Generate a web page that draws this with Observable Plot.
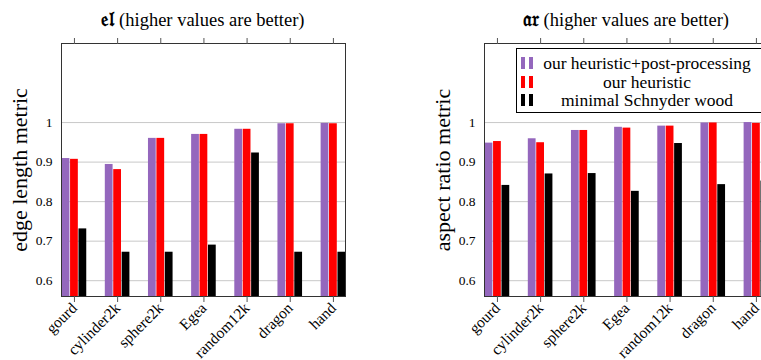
<!DOCTYPE html>
<html>
<head>
<meta charset="utf-8">
<script src="https://cdn.jsdelivr.net/npm/d3@7"></script>
<script src="https://cdn.jsdelivr.net/npm/@observablehq/plot@0.6"></script>
<style>
  html, body { margin: 0; padding: 0; background: #fff; overflow: hidden; }
  #wrap { position: relative; width: 761px; height: 360px; overflow: hidden; font-family: "Liberation Serif", serif; }
  .title { position: absolute; top: 9px; width: 284px; text-align: center; font-size: 18.5px; line-height: 20px; color: #000; white-space: nowrap; }
  .frak { font-weight: bold; font-size: 20px; }
  #legend { position: absolute; left: 516px; top: 48px; width: 247px; height: 65px; border: 1px solid #000; background: #fff; box-sizing: border-box; }
  .row { position: absolute; left: 0; width: 100%; height: 18px; }
  .sw { position: absolute; left: 4px; top: 3px; width: 4px; height: 12px; }
  .sw2 { left: 12px; }
  .lt { position: absolute; left: 19px; width: 222px; text-align: center; font-size: 17.5px; line-height: 18px; white-space: nowrap; }
</style>
</head>
<body>
<div id="wrap">
  <div id="left" style="position:absolute;left:0;top:0;width:380px;height:360px"></div>
  <div id="right" style="position:absolute;left:380px;top:0;width:388px;height:360px"></div>
  <div class="title" style="left:61px"><span class="frak">𝔢𝔩</span> (higher values are better)</div>
  <div class="title" style="left:484px"><span class="frak">𝔞𝔯</span> (higher values are better)</div>
  <div id="legend"></div>
</div>
<script>
const categories = ["gourd", "cylinder2k", "sphere2k", "Egea", "random12k", "dragon", "hand"];
const seriesNames = ["our heuristic+post-processing", "our heuristic", "minimal Schnyder wood"];
const seriesColors = ["#9467bd", "#ff0000", "#000000"];

const elPost = [0.909, 0.894, 0.960, 0.970, 0.983, 0.997, 0.998];
const elHeur = [0.907, 0.881, 0.960, 0.970, 0.983, 0.997, 0.997];
const elMin  = [0.731, 0.672, 0.672, 0.690, 0.923, 0.672, 0.672];

const arPost = [0.948, 0.959, 0.980, 0.988, 0.991, 0.999, 1.000];
const arHeur = [0.952, 0.949, 0.980, 0.986, 0.991, 0.999, 0.998];
const arMin  = [0.841, 0.870, 0.871, 0.826, 0.947, 0.843, 0.852];

const yTicks = [0.6, 0.7, 0.8, 0.9, 1];

const SERIF = "'Liberation Serif', serif";
const offsets = [-0.195, 0, 0.195];
const halfW = 0.09;
const yMin = 0.56, yMax = 1.2;

function makeRows(seriesList) {
  const rows = [];
  seriesList.forEach((vals, s) => {
    vals.forEach((v, i) => {
      rows.push({i, s, series: seriesNames[s], value: v, c: offsets[s]});
    });
  });
  return rows;
}

function chart(seriesList, ylabel, width, marginLeft, marginRight) {
  const rows = makeRows(seriesList);
  const idx = categories.map((_, i) => i);
  return Plot.plot({
    width, height: 360,
    marginLeft, marginRight, marginTop: 43, marginBottom: 64,
    style: {fontFamily: SERIF, fontSize: "13px", color: "#000", background: "#fff", maxWidth: "none"},
    x: {type: "linear", domain: [-0.3, 6.28], axis: null},
    y: {domain: [yMin, yMax], axis: null},
    color: {domain: seriesNames, range: seriesColors},
    marks: [
      Plot.gridY(yTicks, {stroke: "#c8c8c8", strokeOpacity: 1}),
      Plot.rectY(rows, {
        x1: d => d.i + d.c - halfW,
        x2: d => d.i + d.c + halfW,
        y1: () => yMin,
        y2: "value",
        fill: "series",
        clip: true
      }),
      Plot.frame({stroke: "#333", strokeWidth: 1}),
      Plot.axisY(yTicks, {
        tickSize: 0, tickPadding: 9, fontSize: 13.5,
        tickFormat: d => String(d),
        label: ylabel, labelAnchor: "center", labelArrow: "none", labelOffset: 50
      }),
      Plot.axisX(idx, {
        anchor: "bottom", tickSize: 6, tickPadding: 3, tickRotate: -45, fontSize: 15.5,
        stroke: "#555", tickFormat: i => categories[i], label: null
      }),
      Plot.axisX(idx, {
        anchor: "top", tickSize: 6, stroke: "#555", tickFormat: () => "", label: null
      })
    ]
  });
}

const left = chart([elPost, elHeur, elMin], "edge length metric", 380, 61, 35);
const right = chart([arPost, arHeur, arMin], "aspect ratio metric", 388, 104, 0);
document.getElementById("left").append(left);
document.getElementById("right").append(right);

for (const svg of [left, right]) {
  svg.querySelectorAll("g[aria-label='y-axis label'] text").forEach(t => { t.setAttribute("font-size", "22"); });
}

const legend = document.getElementById("legend");
seriesNames.forEach((name, s) => {
  const row = document.createElement("div");
  row.className = "row";
  row.style.top = (5 + s * 18.5) + "px";
  const a = document.createElement("div"); a.className = "sw"; a.style.background = seriesColors[s];
  const b = document.createElement("div"); b.className = "sw sw2"; b.style.background = seriesColors[s];
  const t = document.createElement("div"); t.className = "lt"; t.textContent = name;
  row.append(a, b, t);
  legend.append(row);
});
</script>
</body>
</html>
